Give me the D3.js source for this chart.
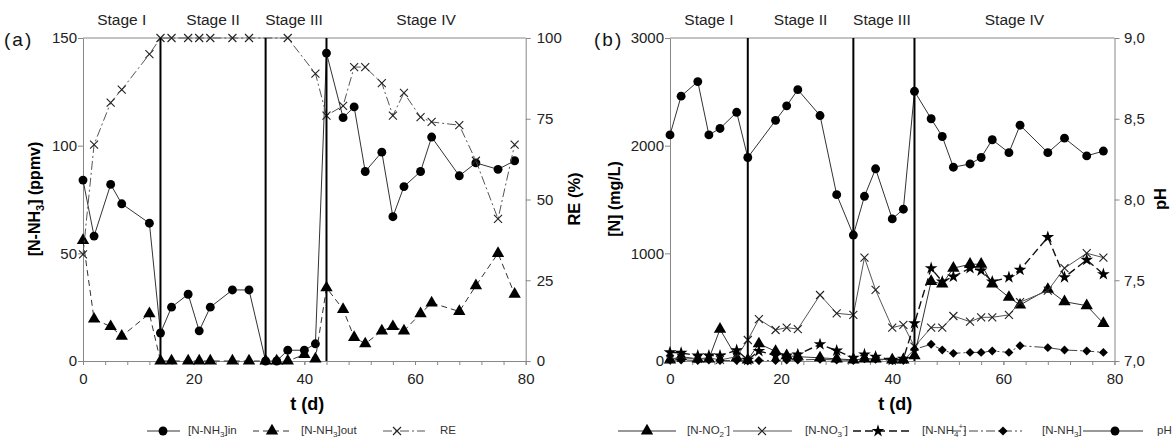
<!DOCTYPE html>
<html>
<head>
<meta charset="utf-8">
<script src="https://cdn.jsdelivr.net/npm/d3@7"></script>
<style>
body { margin: 0; background: #fff; }
svg { font-family: "Liberation Sans", Arial, sans-serif; }
</style>
</head>
<body>
<div id="chart"></div>
<script>
//panel (a) data
const daysIn = [0,2,5,7,12,14,16,19,21,23,27,30,33,35,37,40,42,44,47,49,51,54,56,58,61,63,68,71,75,78];
const nh3In  = [84,58,82,73,64,13,25,31,14,25,33,33,0,0,5,5,8,143,113,118,88,97,67,81,88,104,86,92,89,93];
const nh3Out = [56,19.5,16,11.5,22,0,0,0,0,0,0,0,0,0,0,3,1,34,24,11,8,14,16,14,22,27,23,35,50,31];
const daysRE = [0,2,5,7,12,14,16,19,21,23,27,30,37,42,44,47,49,51,54,56,58,61,63,68,71,75,78];
const reVals = [33,67,80,84,95,100,100,100,100,100,100,100,100,89,76,79,91,91,86,76,83,75.5,74,73,62,44,67];

//panel (b) data
const daysB = [0,2,5,7,9,12,14,16,19,21,23,27,30,33,35,37,40,42,44,47,49,51,54,56,58,61,63,68,71,75,78];
const no2 = [10,40,20,20,295,30,10,160,90,50,40,30,20,10,20,20,10,10,50,740,716,862,899,899,716,592,520,666,551,514,350];
const no3 = [20,30,20,30,10,40,195,388,288,310,297,613,443,428,960,660,310,335,133,310,310,418,365,406,406,428,546,653,862,1001,960];
const nh4 = [80,75,50,50,50,100,10,93,50,50,60,155,96,30,60,40,10,20,350,862,737,784,862,840,737,778,846,1150,778,939,806];
const nh3 = [8,10,5,10,5,5,0,5,5,10,10,15,10,5,20,15,5,5,109,155,102,71,80,80,93,80,142,124,102,93,80];
const daysPH = [0,2,5,7,9,12,14,19,21,23,27,30,33,35,37,40,42,44,47,49,51,54,56,58,61,63,68,71,75,78];
const phVals = [8.40,8.64,8.73,8.40,8.44,8.54,8.26,8.49,8.58,8.68,8.52,8.03,7.78,8.02,8.19,7.88,7.94,8.67,8.50,8.39,8.20,8.22,8.26,8.37,8.29,8.46,8.29,8.38,8.27,8.30];

const stageDays = [14, 33, 44];
const stageNames = ["Stage I", "Stage II", "Stage III", "Stage IV"];
const xTicks = [0, 20, 40, 60, 80];

const W = 1172, H = 439;
const plotTop = 38, plotBottom = 361;

const svg = d3.select("#chart").append("svg")
    .attr("width", W)
    .attr("height", H);

//marker drawing
function marker(sel, type) {
    if (type === "cross") {
        sel.append("path")
            .attr("d", "M-4,-4L4,4M-4,4L4,-4")
            .attr("stroke", "#222")
            .attr("stroke-width", 1.1)
            .attr("fill", "none");
        return;
    }
    const sym = { circle: d3.symbolCircle, triangle: d3.symbolTriangle, star: d3.symbolStar, diamond: d3.symbolSquare }[type];
    const size = { circle: 62, triangle: 66, star: 50, diamond: 40 }[type];
    sel.append("path")
        .attr("d", d3.symbol(sym, size)())
        .attr("transform", type === "diamond" ? "rotate(45)" : null)
        .attr("fill", "#000");
}

//text with sub/superscripts
function rich(textSel, parts, fs) {
    let shift = 0;
    parts.forEach(([s, m]) => {
        const target = m === "sub" ? fs * 0.25 : m === "sup" ? -fs * 0.4 : 0;
        const ts = textSel.append("tspan").text(s).attr("dy", target - shift);
        if (m) ts.attr("font-size", fs * 0.7);
        shift = target;
    });
}

function drawPanel(cfg) {
    const g = svg.append("g");
    const x = d3.scaleLinear().domain([0, 80]).range([cfg.x0, cfg.x1]);
    const yL = d3.scaleLinear().domain(cfg.leftDomain).range([plotBottom, plotTop]);
    const yR = d3.scaleLinear().domain(cfg.rightDomain).range([plotBottom, plotTop]);

    //top border
    g.append("line")
        .attr("x1", cfg.x0).attr("x2", cfg.x1)
        .attr("y1", plotTop).attr("y2", plotTop)
        .attr("stroke", "#888");

    //axes
    const styleAxis = a => {
        a.selectAll("path,line").attr("stroke", "#888");
        a.selectAll("text").attr("font-size", 15).attr("fill", "#222").attr("font-family", "Liberation Sans, Arial, sans-serif");
    };
    g.append("g")
        .attr("transform", `translate(0,${plotBottom})`)
        .call(d3.axisBottom(x).tickValues(d3.range(0, 81, 4)).tickSize(4).tickSizeOuter(0).tickFormat(""))
        .call(styleAxis);
    g.append("g")
        .attr("transform", `translate(0,${plotBottom})`)
        .call(d3.axisBottom(x).tickValues(xTicks).tickSize(4).tickPadding(8).tickSizeOuter(0))
        .call(styleAxis);
    g.append("g")
        .attr("transform", `translate(${cfg.x0},0)`)
        .call(d3.axisLeft(yL).tickValues(cfg.leftTicks).tickSize(5).tickPadding(cfg.leftPad).tickSizeOuter(0).tickFormat(d3.format("d")))
        .call(styleAxis);
    g.append("g")
        .attr("transform", `translate(${cfg.x1},0)`)
        .call(d3.axisRight(yR).tickValues(cfg.rightTicks).tickSize(5).tickPadding(cfg.rightPad).tickSizeOuter(0).tickFormat(cfg.rightFormat))
        .call(styleAxis);

    //series
    cfg.series.forEach(s => {
        const y = s.axis === "R" ? yR : yL;
        const pts = s.days.map((d, i) => [x(d), y(s.vals[i])]);
        g.append("path")
            .attr("d", d3.line()(pts))
            .attr("fill", "none")
            .attr("stroke", s.color || "#333")
            .attr("stroke-width", s.width || 1)
            .attr("stroke-dasharray", s.dash || null);
        pts.forEach(p => {
            const m = g.append("g").attr("transform", `translate(${p[0]},${p[1]})`);
            marker(m, s.marker);
        });
    });

    //stage lines
    stageDays.forEach(d => {
        g.append("line")
            .attr("x1", x(d)).attr("x2", x(d))
            .attr("y1", plotTop).attr("y2", plotBottom)
            .attr("stroke", "#000")
            .attr("stroke-width", 2);
    });
    const bounds = [0, ...stageDays, 80];
    stageNames.forEach((n, i) => {
        g.append("text")
            .attr("x", x((bounds[i] + bounds[i + 1]) / 2) + (i === 2 ? -2 : 0))
            .attr("y", 25)
            .attr("text-anchor", "middle")
            .attr("font-size", 15.5)
            .attr("fill", "#222")
            .text(n);
    });

    //panel tag
    g.append("text")
        .attr("x", cfg.tagX)
        .attr("y", 46)
        .attr("font-size", 19)
        .attr("letter-spacing", 2)
        .attr("fill", "#111")
        .text(cfg.tag);

    //axis titles
    g.append("text")
        .attr("x", (cfg.x0 + cfg.x1) / 2 + 3)
        .attr("y", 410)
        .attr("text-anchor", "middle")
        .attr("font-size", 18)
        .attr("font-weight", "bold")
        .text("t (d)");
    const yl = g.append("text")
        .attr("transform", `translate(${cfg.leftTitleX},199) rotate(-90)`)
        .attr("text-anchor", "middle")
        .attr("font-size", 16)
        .attr("font-weight", "bold");
    rich(yl, cfg.leftTitle, 16);
    g.append("text")
        .attr("transform", `translate(${cfg.rightTitleX},199) rotate(-90)`)
        .attr("text-anchor", "middle")
        .attr("font-size", 16.5)
        .attr("font-weight", "bold")
        .text(cfg.rightTitle);

    //legend
    cfg.legend.forEach(l => {
        const s = cfg.series[l.s];
        g.append("line")
            .attr("x1", l.x1).attr("x2", l.x2)
            .attr("y1", 431).attr("y2", 431)
            .attr("stroke", s.color || "#333")
            .attr("stroke-width", s.width || 1)
            .attr("stroke-dasharray", s.dash || null);
        const m = g.append("g").attr("transform", `translate(${l.mx},431)`);
        marker(m, s.marker);
        const t = g.append("text")
            .attr("x", l.tx)
            .attr("y", 434)
            .attr("font-size", 11.5)
            .attr("fill", "#333");
        rich(t, l.label, 11.5);
    });
}

drawPanel({
    x0: 83, x1: 525.7,
    leftDomain: [0, 150], leftTicks: [0, 50, 100, 150], leftPad: 1,
    rightDomain: [0, 100], rightTicks: [0, 25, 50, 75, 100], rightPad: 6,
    rightFormat: d => d,
    tag: "(a)", tagX: 4,
    leftTitleX: 40, leftTitle: [["[N-NH", ""], ["3", "sub"], ["] (ppmv)", ""]],
    rightTitleX: 580, rightTitle: "RE (%)",
    series: [
        { days: daysIn, vals: nh3In, axis: "L", marker: "circle" },
        { days: daysIn, vals: nh3Out, axis: "L", marker: "triangle", dash: "6,4" },
        { days: daysRE, vals: reVals, axis: "R", marker: "cross", dash: "9,3,2,3", color: "#555" }
    ],
    legend: [
        { s: 0, x1: 147, x2: 180, mx: 163, tx: 188, label: [["[N-NH", ""], ["3", "sub"], ["]in", ""]] },
        { s: 1, x1: 253, x2: 290, mx: 272, tx: 301, label: [["[N-NH", ""], ["3", "sub"], ["]out", ""]] },
        { s: 2, x1: 383, x2: 425, mx: 397, tx: 440, label: [["RE", ""]] }
    ]
});

drawPanel({
    x0: 670, x1: 1114.5,
    leftDomain: [0, 3000], leftTicks: [0, 1000, 2000, 3000], leftPad: 1,
    rightDomain: [7, 9], rightTicks: [7, 7.5, 8, 8.5, 9], rightPad: 4.5,
    rightFormat: d => d.toFixed(1).replace(".", ","),
    tag: "(b)", tagX: 594,
    leftTitleX: 620, leftTitle: [["[N] (mg/L)", ""]],
    rightTitleX: 1166, rightTitle: "pH",
    series: [
        { days: daysB, vals: no2, axis: "L", marker: "triangle" },
        { days: daysB, vals: no3, axis: "L", marker: "cross", color: "#555" },
        { days: daysB, vals: nh4, axis: "L", marker: "star", dash: "8,4", width: 1.4, color: "#111" },
        { days: daysB, vals: nh3, axis: "L", marker: "diamond", dash: "9,3,2,3", color: "#444" },
        { days: daysPH, vals: phVals, axis: "R", marker: "circle" }
    ],
    legend: [
        { s: 0, x1: 618, x2: 676, mx: 647, tx: 687, label: [["[N-NO", ""], ["2", "sub"], ["-", "sup"], ["]", ""]] },
        { s: 1, x1: 733, x2: 792, mx: 762, tx: 805, label: [["[N-NO", ""], ["3", "sub"], ["-", "sup"], ["]", ""]] },
        { s: 2, x1: 853, x2: 910, mx: 878, tx: 922, label: [["[N-NH", ""], ["4", "sub"], ["+", "sup"], ["]", ""]] },
        { s: 3, x1: 952, x2: 1022, mx: 1003, tx: 1042, label: [["[N-NH", ""], ["3", "sub"], ["]", ""]] },
        { s: 4, x1: 1083, x2: 1143, mx: 1115, tx: 1157, label: [["pH", ""]] }
    ]
});
</script>
</body>
</html>
